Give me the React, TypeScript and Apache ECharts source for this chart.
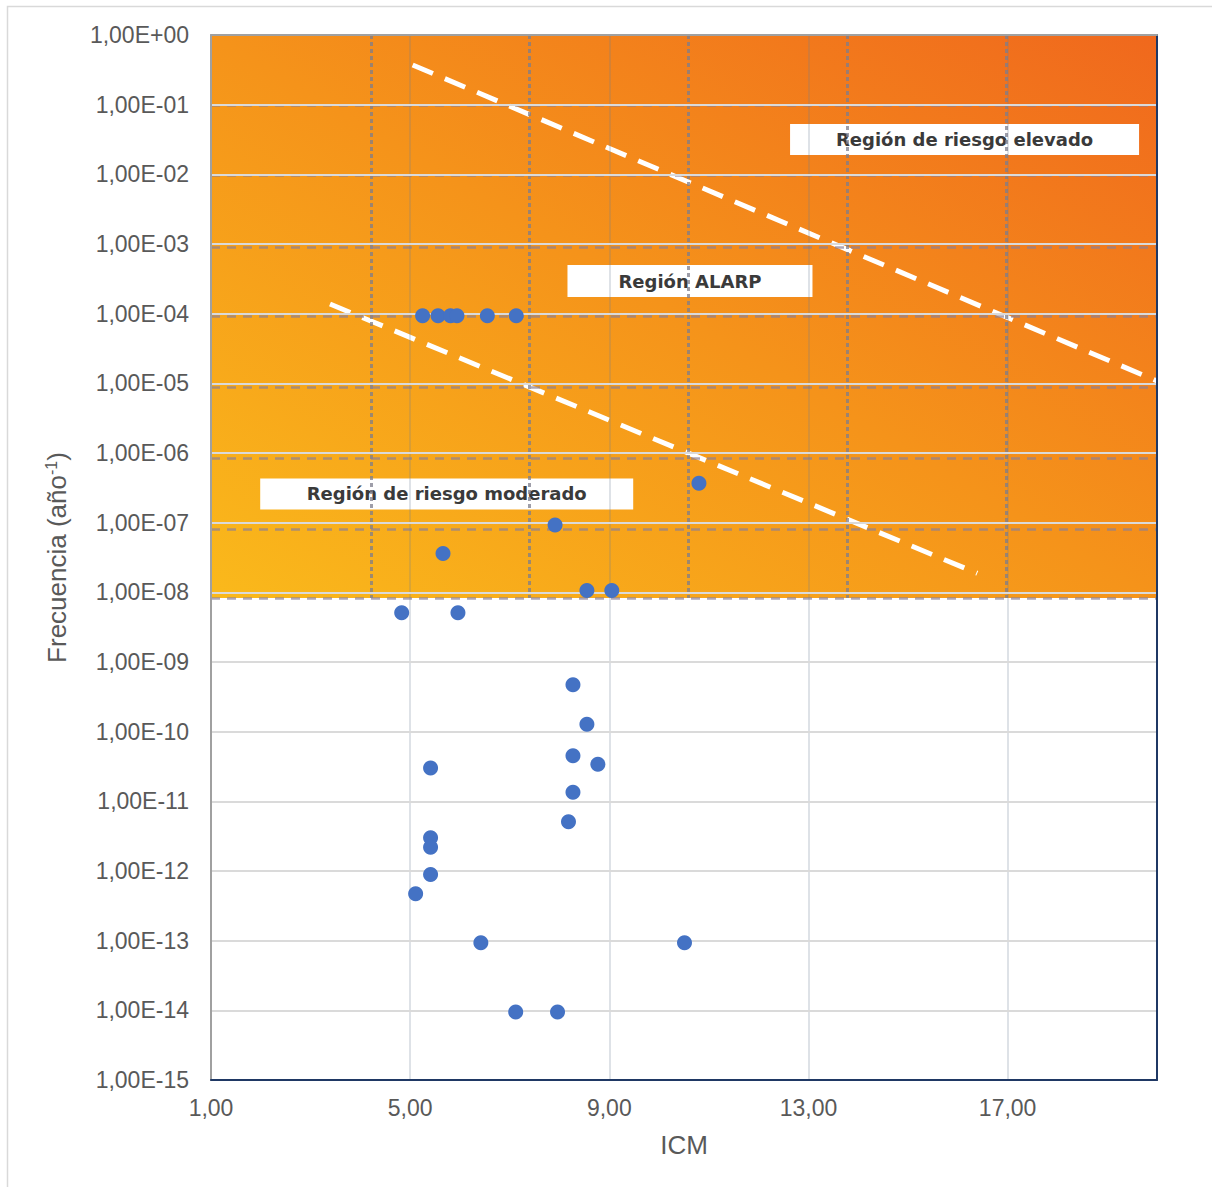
import React, { useEffect, useRef } from "react";
import * as echarts from "echarts";

// ---- Data ----
const ICM = [5.25, 5.56, 5.81, 5.94, 6.55, 7.13, 10.8, 5.66, 7.91, 8.55, 9.05, 4.83, 5.96, 8.27, 8.55, 8.27, 8.77, 5.41, 8.27, 8.18, 5.41, 5.41, 5.41, 5.11, 6.42, 10.51, 7.12, 7.96];
const FREQ = [9.3e-5, 9.3e-5, 9.3e-5, 9.3e-5, 9.3e-5, 9.3e-5, 3.67e-7, 3.6e-8, 9.25e-8, 1.06e-8, 1.06e-8, 5.1e-9, 5.1e-9, 4.7e-10, 1.28e-10, 4.5e-11, 3.4e-11, 3.0e-11, 1.35e-11, 5.1e-12, 3.0e-12, 2.2e-12, 8.9e-13, 4.7e-13, 9.3e-14, 9.3e-14, 9.5e-15, 9.5e-15];

const X_MIN = 1;
const X_MAX = 20;
const X_TICKS = [1, 5, 9, 13, 17];
const X_GRID = [5, 9, 13, 17];
const Y_MIN = 1e-15;
const Y_MAX = 1;

// Background risk-matrix picture (orange region) elements
const IMG_BOTTOM = 8.3e-9;
const IMG_VDASH_X = [4.22, 7.4, 10.59, 13.78, 16.98];
const IMG_HDASH_EXP = [-1.005, -2.02, -3.04, -4.04, -5.06, -6.08, -7.09];
const UPPER_BOUNDARY = [[5.05, 0.3715], [20, 1.08e-5]];
const LOWER_BOUNDARY = [[3.39, 1.377e-4], [16.39, 1.875e-8]];

const REGION_NAMES = ["Región de riesgo elevado", "Región ALARP", "Región de riesgo moderado"];
const REGION_X = [16.135, 10.62, 5.734];
const REGION_Y = [3.16e-2, 2.94e-4, 2.58e-7];
const REGION_BOX = [[349, 31], [245, 32], [373, 31]];

const FONT = "'Liberation Sans', Arial, sans-serif";

function yLabel(v: number) {
  const e = Math.round(Math.log10(v));
  const s = e < 0 ? "-" : "+";
  return "1,00E" + s + String(Math.abs(e)).padStart(2, "0");
}
function xLabel(v: number) {
  return v.toFixed(2).replace(".", ",");
}

export default function App() {
  const ref = useRef<HTMLDivElement>(null);
  useEffect(() => {
    if (!ref.current) return;
    const chart = echarts.init(ref.current, null, { renderer: "svg" });
    const points = ICM.map((x, i) => [x, FREQ[i]]);
    const orange = {
      type: "linear",
      x: 0,
      y: 1,
      x2: 1,
      y2: 0,
      colorStops: [
        { offset: 0, color: "#fab91b" },
        { offset: 0.5, color: "#f5931a" },
        { offset: 1, color: "#f0681d" },
      ],
    };
    const option: any = {
      animation: false,
      backgroundColor: "#ffffff",
      graphic: [
        {
          type: "rect",
          z: -10,
          silent: true,
          shape: { x: 7.5, y: 6.5, width: 1210, height: 1190 },
          style: { fill: "none", stroke: "#d9d9d9", lineWidth: 1.5 },
        },
      ],
      grid: { left: 211, top: 35, right: 55, bottom: 107, containLabel: false },
      xAxis: [
        {
          type: "value",
          min: X_MIN,
          max: X_MAX,
          z: 7,
          name: "ICM",
          nameLocation: "middle",
          nameGap: 52,
          nameTextStyle: { fontFamily: FONT, fontSize: 26, color: "#595959" },
          axisLine: { show: true, lineStyle: { color: "#1f3864", width: 2 } },
          axisTick: { show: false, customValues: X_TICKS },
          axisLabel: {
            customValues: X_TICKS,
            formatter: xLabel,
            fontFamily: FONT,
            fontSize: 23,
            color: "#595959",
            margin: 16,
          },
          splitLine: { show: false },
        },
        {
          type: "value",
          position: "top",
          min: X_MIN,
          max: X_MAX,
          z: 7,
          axisLine: { show: true, lineStyle: { color: "#a0a0a0", width: 2 } },
          axisTick: { show: false },
          axisLabel: { show: false },
          splitLine: { show: false },
        },
      ],
      yAxis: [
        {
          type: "log",
          logBase: 10,
          min: Y_MIN,
          max: Y_MAX,
          interval: 1,
          z: 6,
          name: "Frecuencia (año{sup|-1})",
          nameLocation: "middle",
          nameGap: 140,
          nameTextStyle: {
            fontFamily: FONT,
            fontSize: 26,
            color: "#595959",
            rich: { sup: { fontFamily: FONT, fontSize: 16, color: "#595959", padding: [0, 0, 12, 0] } },
          },
          axisLine: { show: true, lineStyle: { color: "#a0a0a0", width: 2 } },
          axisTick: { show: false },
          axisLabel: { formatter: yLabel, fontFamily: FONT, fontSize: 23, color: "#595959", margin: 22 },
          splitLine: { show: true, lineStyle: { color: "#dadada", width: 2 } },
        },
        {
          type: "log",
          logBase: 10,
          min: Y_MIN,
          max: Y_MAX,
          position: "right",
          z: 7,
          axisLine: { show: true, lineStyle: { color: "#1f3864", width: 2 } },
          axisTick: { show: false },
          axisLabel: { show: false },
          splitLine: { show: false },
        },
      ],
      series: [
        {
          type: "scatter",
          data: [],
          z: 1,
          silent: true,
          markArea: {
            silent: true,
            itemStyle: { color: orange },
            data: [[{ coord: [X_MIN, Y_MAX] }, { coord: [X_MAX, IMG_BOTTOM] }]],
          },
        },
        {
          type: "scatter",
          data: [],
          z: 2,
          silent: true,
          markLine: {
            silent: true,
            symbol: ["none", "none"],
            label: { show: false },
            lineStyle: { color: "rgba(125,125,140,0.75)", width: 3, type: [4, 3] },
            data: IMG_VDASH_X.map((x) => [{ coord: [x, Y_MAX] }, { coord: [x, IMG_BOTTOM] }]),
          },
        },
        {
          type: "scatter",
          data: [],
          z: 2,
          silent: true,
          markLine: {
            silent: true,
            symbol: ["none", "none"],
            label: { show: false },
            lineStyle: { color: "rgba(140,128,150,0.7)", width: 2.5, type: [9, 7] },
            data: IMG_HDASH_EXP.map((e) => [{ coord: [X_MIN, Math.pow(10, e)] }, { coord: [X_MAX, Math.pow(10, e)] }]).concat([
              [{ coord: [X_MIN, IMG_BOTTOM] }, { coord: [X_MAX, IMG_BOTTOM] }],
            ]),
          },
        },
        {
          type: "line",
          data: UPPER_BOUNDARY,
          z: 3,
          silent: true,
          symbol: "none",
          lineStyle: { color: "#ffffff", width: 5, type: [22, 13] },
        },
        {
          type: "line",
          data: LOWER_BOUNDARY,
          z: 3,
          silent: true,
          symbol: "none",
          lineStyle: { color: "#ffffff", width: 5, type: [22, 13] },
        },
        {
          type: "scatter",
          z: 4,
          silent: true,
          symbol: "rect",
          data: REGION_NAMES.map((n, i) => ({
            name: n,
            value: [REGION_X[i], REGION_Y[i]],
            symbolSize: REGION_BOX[i],
          })),
          itemStyle: { color: "#ffffff", opacity: 1 },
          label: {
            show: true,
            position: "inside",
            formatter: (p: any) => p.name,
            fontFamily: "'DejaVu Sans', sans-serif",
            fontWeight: "bold",
            fontSize: 18,
            color: "#3a3a3a",
          },
          emphasis: { disabled: true },
        },
        {
          type: "scatter",
          data: [],
          z: 6,
          silent: true,
          markLine: {
            silent: true,
            symbol: ["none", "none"],
            label: { show: false },
            lineStyle: { color: "rgba(110,125,150,0.3)", width: 1.5, type: "solid" },
            data: X_GRID.map((x) => ({ xAxis: x })),
          },
        },
        {
          type: "scatter",
          name: "Escenarios",
          z: 8,
          data: points,
          symbol: "circle",
          symbolSize: 15,
          itemStyle: { color: "#4472c4", opacity: 1 },
        },
      ],
    };
    chart.setOption(option);
    return () => chart.dispose();
  }, []);
  return (
    <div
      ref={ref}
      style={{ position: "absolute", left: 0, top: 0, width: 1212, height: 1187 }}
    />
  );
}
